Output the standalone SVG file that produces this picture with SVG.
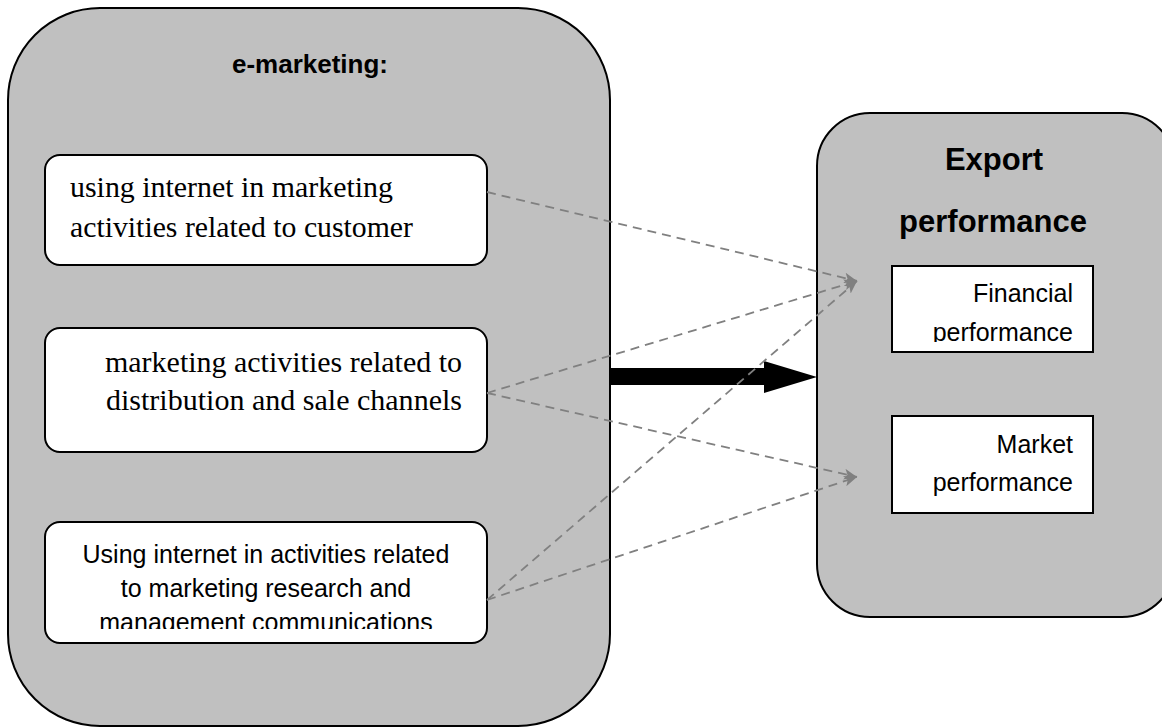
<svg xmlns="http://www.w3.org/2000/svg" width="1162" height="727" viewBox="0 0 1162 727">
  <style>
    .panel { fill: #c0c0c0; stroke: #000; stroke-width: 2; }
    .card { fill: #fff; stroke: #000; stroke-width: 2; }
    .title { font-family: "Liberation Sans", Arial, sans-serif; font-weight: bold; fill: #000; text-anchor: middle; }
    .serif { font-family: "Liberation Serif", "Times New Roman", serif; font-size: 29px; fill: #000; }
    .sans { font-family: "Liberation Sans", Arial, sans-serif; font-size: 25px; fill: #000; }
    .dash { fill: none; stroke: #808080; stroke-width: 1.8; stroke-dasharray: 9 6; }
  </style>
  <defs>
    <marker id="grayHead" viewBox="0 0 12 10" refX="12" refY="5" markerWidth="13" markerHeight="11" markerUnits="userSpaceOnUse" orient="auto">
      <path d="M0,0 L12,5 L0,10 L3,5 Z" fill="#808080"/>
    </marker>
    <clipPath id="clipResearch"><rect x="45" y="522" width="442" height="107"/></clipPath>
    <clipPath id="clipFinancial"><rect x="892" y="266" width="201" height="76"/></clipPath>
  </defs>
  <rect width="1162" height="727" fill="#fff"/>

  <!-- e-marketing panel -->
  <g id="emarketing">
    <rect class="panel" x="8" y="8" width="602" height="718" rx="92" ry="92"/>
    <text class="title" x="310" y="73" font-size="26">e-marketing:</text>
  </g>

  <g id="customer">
    <rect class="card" x="45" y="155" width="442" height="110" rx="15" ry="15"/>
    <text class="serif" x="70" y="197" textLength="323" lengthAdjust="spacingAndGlyphs">using internet in marketing</text>
    <text class="serif" x="70" y="237" textLength="343" lengthAdjust="spacingAndGlyphs">activities related to customer</text>
  </g>

  <g id="distribution">
    <rect class="card" x="45" y="328" width="442" height="124" rx="15" ry="15"/>
    <text class="serif" x="105" y="372" textLength="357" lengthAdjust="spacingAndGlyphs">marketing activities related to</text>
    <text class="serif" x="106" y="410" textLength="356" lengthAdjust="spacingAndGlyphs">distribution and sale channels</text>
  </g>

  <g id="research">
    <rect class="card" x="45" y="522" width="442" height="121" rx="15" ry="15"/>
    <g clip-path="url(#clipResearch)" text-anchor="middle">
      <text class="sans" x="266" y="563">Using internet in activities related</text>
      <text class="sans" x="266" y="597">to marketing research and</text>
      <text class="sans" x="266" y="631">management communications</text>
    </g>
  </g>

  <!-- Export performance panel -->
  <g id="export">
    <rect class="panel" x="817" y="113" width="358" height="504" rx="53" ry="53"/>
    <text class="title" x="994" y="170" font-size="31">Export</text>
    <text class="title" x="993" y="232" font-size="31">performance</text>
  </g>

  <g id="financial">
    <rect class="card" x="892" y="266" width="201" height="86"/>
    <g clip-path="url(#clipFinancial)" text-anchor="end">
      <text class="sans" x="1073" y="302">Financial</text>
      <text class="sans" x="1073" y="341">performance</text>
    </g>
  </g>

  <g id="market">
    <rect class="card" x="892" y="416" width="201" height="97"/>
    <g text-anchor="end">
      <text class="sans" x="1073" y="453">Market</text>
      <text class="sans" x="1073" y="491">performance</text>
    </g>
  </g>

  <!-- connectors -->
  <g id="connectors">
    <polygon points="610,368 764,368 764,361 817,377 764,393 764,385 610,385" fill="#000"/>
    <line class="dash" x1="487" y1="192" x2="857" y2="281" marker-end="url(#grayHead)"/>
    <line class="dash" x1="487" y1="393" x2="857" y2="281" marker-end="url(#grayHead)"/>
    <line class="dash" x1="487" y1="393" x2="857" y2="477" marker-end="url(#grayHead)"/>
    <line class="dash" x1="487" y1="600" x2="857" y2="281" marker-end="url(#grayHead)"/>
    <line class="dash" x1="487" y1="600" x2="857" y2="477" marker-end="url(#grayHead)"/>
  </g>
</svg>
